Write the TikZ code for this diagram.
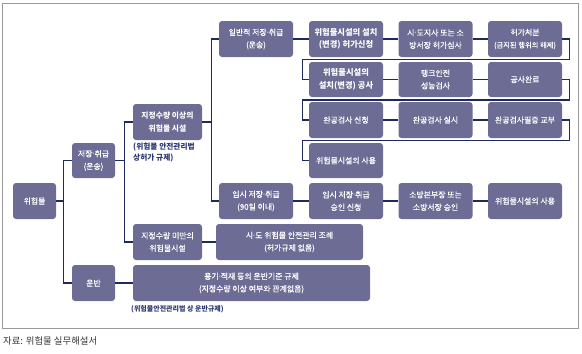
\documentclass[tikz,border=0pt]{standalone}
\usepackage{fontspec}
\setmainfont{Noto Sans CJK KR}
\newfontfamily\medfont{Noto Sans CJK KR}[FakeBold=0.3]
\newfontfamily\dotfont{DejaVu Sans}
\newcommand\mdot{{\dotfont\kern-0.2pt·\kern-0.2pt}}
\usetikzlibrary{calc}
\definecolor{boxc}{HTML}{6C6C95}
\definecolor{linec}{HTML}{1E2A5C}
\definecolor{notec}{HTML}{2B3670}
\definecolor{framec}{HTML}{9A9A9A}
\begin{document}
\begin{tikzpicture}[x=1pt,y=-1pt,
  box/.style={fill=boxc,rounded corners=3pt,text=white,align=center,inner sep=0pt,
    font=\fontsize{7.9}{12.5}\selectfont\medfont,minimum height=36pt},
  bw/.style={minimum width=74pt},
  bold/.style={font=\fontsize{8.3}{12.5}\selectfont\bfseries},
  conn/.style={draw=linec,line width=1.1pt},
  note/.style={text=notec,align=left,inner sep=0pt,font=\fontsize{7.7}{11}\selectfont\bfseries}]
\useasboundingbox (0,0) rectangle (582,354);
\draw[framec,line width=1pt] (2,3) rectangle (578,328);
% boxes
\node[box,minimum width=43pt] (wh) at (34.5,201) {위험물};
\node[box,minimum width=43pt,minimum height=35pt] (st) at (93.5,160.5) {저장\mdot 취급\\(운송)};
\node[box,minimum width=43pt] (ub) at (93.5,283) {운반};
\node[box,bold,font=\fontsize{7.8}{12.5}\selectfont\bfseries,minimum width=69pt] (ab) at (167.5,122) {지정수량 이상의\\위험물 시설};
\node[box,minimum width=69pt] (mi) at (167.5,242) {지정수량 미만의\\위험물시설};
\node[box,minimum width=147pt] (sido) at (289.5,242) {시\mdot 도 위험물 안전관리 조례\\(허가규제 없음)};
\node[box,minimum width=237pt] (yong) at (251.5,283) {용기\mdot 적재 등의 운반기준 규제\\(지정수량 이상 여부와 관계없음)};
\node[box,bw] (il) at (256,39) {일반적 저장\mdot 취급\\(운송)};
\node[box,bw] (im) at (256,201) {임시 저장\mdot 취급\\(90일 이내)};
\node[box,bw,bold] (r1a) at (346,39) {위험물시설의 설치\\(변경) 허가신청};
\node[box,bw] (r1b) at (435.5,39) {시\mdot 도지사 또는 소\\방서장 허가심사};
\node[box,bw] (r1c) at (525,39) {허가처분\\{\fontsize{7.3}{12.5}\selectfont(금지된 행위의 해제)}};
\node[box,bw,bold,minimum height=35pt] (r2a) at (346,79.5) {위험물시설의\\설치(변경) 공사};
\node[box,bw,minimum height=35pt] (r2b) at (435.5,79.5) {탱크안전\\성능검사};
\node[box,bw,minimum height=35pt] (r2c) at (525,79.5) {공사완료};
\node[box,bw] (r3a) at (346,120) {완공검사 신청};
\node[box,bw] (r3b) at (435.5,120) {완공검사 실시};
\node[box,bw] (r3c) at (525,120) {완공검사필증 교부};
\node[box,bw,minimum height=35pt] (r4) at (346,160.5) {위험물시설의 사용};
\node[box,bw] (r5a) at (346,201) {임시 저장\mdot 취급\\승인 신청};
\node[box,bw] (r5b) at (435.5,201) {소방본부장 또는\\소방서장 승인};
\node[box,bw] (r5c) at (525,201) {위험물시설의 사용};
% notes
\node[note,anchor=north west] (n1) at (133,143) {(위험물 안전관리법\\상허가 규제)};
\node[note,anchor=west,font=\fontsize{7}{9}\selectfont\bfseries] (n2) at (131,309.5) {(위험물안전관리법 상 운반규제)};
\node[anchor=west,inner sep=0pt,text=black!80,font=\fontsize{9.4}{10}\selectfont] (src) at (3,341) {자료: 위험물 실무해설서};
% connectors
\draw[conn] (wh.east) -- ++(8,0);
\draw[conn] (st.west) -- ++(-8,0) |- (ub.west);
\draw[conn] (st.east) -- ++(10,0);
\draw[conn] (ab.west) -- ++(-8,0) |- (mi.west);
\draw[conn] (ab.east) -- ++(10,0);
\draw[conn] (il.west) -- ++(-7,0) |- (im.west);
\draw[conn] (il.east) -- (r1a.west);
\draw[conn] (r1a.east) -- (r1b.west);
\draw[conn] (r1b.east) -- (r1c.west);
\draw[conn] (r1c.east) -- ++(7,0) -- ++(0,20.5) -| ($(r2a.west)+(-6,0)$) -- (r2a.west);
\draw[conn] (r2a.east) -- (r2b.west);
\draw[conn] (r2b.east) -- (r2c.west);
\draw[conn] (r2c.east) -- ++(7,0) -- ++(0,20.5) -| ($(r3a.west)+(-6,0)$) -- (r3a.west);
\draw[conn] (r3a.east) -- (r3b.west);
\draw[conn] (r3b.east) -- (r3c.west);
\draw[conn] (r3c.east) -- ++(7,0) -- ++(0,20.5) -| ($(r4.west)+(-6,0)$) -- (r4.west);
\draw[conn] (im.east) -- (r5a.west);
\draw[conn] (r5a.east) -- (r5b.west);
\draw[conn] (r5b.east) -- (r5c.west);
\draw[conn] (mi.east) -- (sido.west);
\draw[conn] (ub.east) -- (yong.west);
\end{tikzpicture}
\end{document}
